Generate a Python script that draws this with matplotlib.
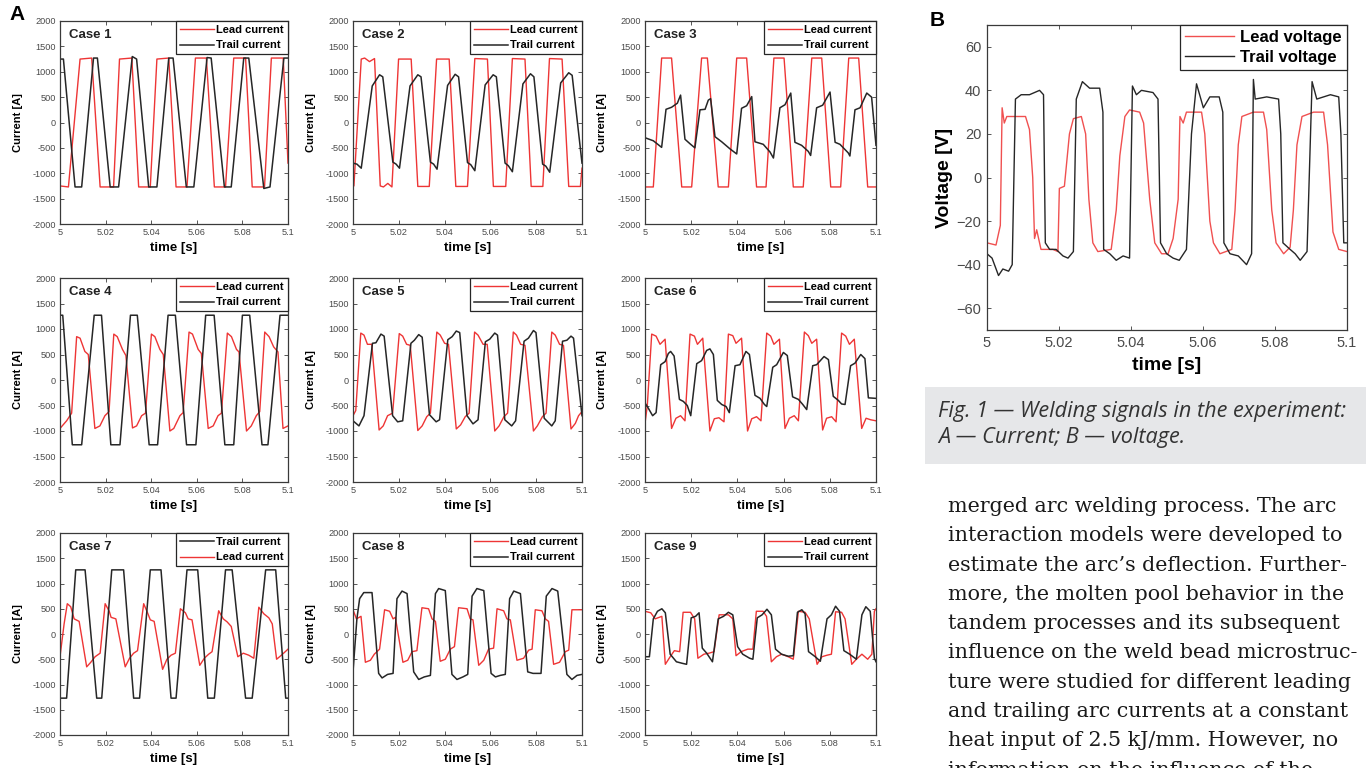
import matplotlib
matplotlib.use("Agg")
import matplotlib.pyplot as plt
from matplotlib.patches import Rectangle

plt.rcParams['font.family'] = ['Liberation Sans', 'DejaVu Sans']

# ---------------- data (time in ms after 5 s, current in A) ----------------
case_titles = ["Case 1", "Case 2", "Case 3", "Case 4", "Case 5", "Case 6", "Case 7", "Case 8", "Case 9"]

case1_lead_t = [0, 3.7, 8.8, 13.9, 17.6, 23.5, 26.1, 31.5, 34.5, 39.6, 42.5, 47.7, 50.9, 55.7, 59.4, 64.2, 67.7, 72.6, 76.2, 81.4, 84.3, 89.7, 92.7, 97.9, 100]
case1_lead_i = [-1250, -1270, 1250, 1270, -1270, -1270, 1250, 1270, -1270, -1270, 1250, 1270, -1270, -1270, 1270, 1270, -1270, -1270, 1270, 1270, -1270, -1270, 1270, 1270, -800]
case1_trail_t = [0, 1.5, 6.6, 9.5, 14.7, 16.4, 22.0, 25.7, 31.7, 33.6, 38.9, 42.5, 47.7, 49.6, 55.4, 58.7, 64.5, 66.3, 72.1, 75.1, 80.6, 82.8, 89.4, 92.1, 98.2, 100]
case1_trail_i = [1250, 1250, -1270, -1270, 1270, 1270, -1270, -1270, 1300, 1250, -1270, -1270, 1270, 1270, -1270, -1270, 1280, 1270, -1270, -1270, 1270, 1270, -1300, -1270, 1270, 1270]

case2_lead_t = [0, 0.4, 3.6, 5.1, 7.2, 9.4, 11.9, 13.3, 15.2, 17.0, 19.9, 25.4, 28.3, 33.3, 36.5, 42.0, 44.9, 50.0, 53.2, 58.7, 61.3, 66.7, 69.6, 75.1, 77.8, 82.9, 85.8, 91.3, 94.2, 99.3, 100]
case2_lead_i = [-1250, -1250, 1250, 1270, 1200, 1260, -1250, -1270, -1200, -1270, 1250, 1250, -1260, -1260, 1250, 1250, -1260, -1260, 1260, 1250, -1260, -1260, 1260, 1250, -1260, -1260, 1260, 1250, -1260, -1260, -900]
case2_trail_t = [0, 1.7, 3.6, 8.4, 11.6, 13.0, 17.4, 18.8, 20.3, 24.9, 28.3, 29.7, 33.8, 35.2, 36.7, 41.3, 44.6, 46.1, 50.0, 51.4, 53.2, 57.7, 61.2, 62.6, 66.4, 67.8, 69.6, 74.2, 77.5, 79.0, 82.8, 84.2, 85.9, 90.7, 94.2, 95.7, 100]
case2_trail_i = [-800, -820, -900, 720, 940, 900, -780, -820, -900, 720, 940, 900, -780, -820, -920, 730, 950, 900, -790, -830, -950, 740, 940, 900, -800, -850, -970, 760, 960, 900, -820, -860, -980, 780, 980, 930, -800]

case3_lead_t = [0, 3.6, 7.2, 11.5, 15.9, 20.2, 24.5, 27.0, 31.7, 36.1, 39.7, 44.0, 48.3, 52.4, 55.8, 60.2, 64.2, 68.5, 72.2, 76.5, 80.4, 84.7, 88.2, 92.5, 96.4, 100]
case3_lead_i = [-1270, -1270, 1270, 1270, -1270, -1270, 1270, 1270, -1270, -1270, 1270, 1270, -1270, -1270, 1270, 1270, -1270, -1270, 1270, 1270, -1270, -1270, 1270, 1270, -1270, -1270]
case3_trail_t = [0, 3.6, 7.2, 9.1, 11.5, 14.0, 15.4, 17.3, 19.5, 21.6, 23.8, 26.0, 27.4, 28.4, 30.3, 33.2, 36.8, 39.7, 41.8, 44.0, 46.2, 47.6, 51.2, 54.1, 55.6, 58.4, 60.6, 63.1, 64.9, 67.8, 70.7, 71.7, 74.3, 76.9, 80.1, 82.3, 84.4, 88.0, 88.7, 90.9, 93.1, 96.0, 98.1, 100]
case3_trail_i = [-300, -360, -490, 260, 300, 380, 540, -330, -420, -500, 250, 260, 440, 470, -280, -380, -520, -620, 280, 330, 510, -380, -430, -580, -700, 290, 350, 580, -390, -450, -570, -650, 290, 340, 600, -390, -430, -600, -660, 250, 290, 580, 500, -450]

case4_lead_t = [0, 2.9, 5.1, 7.3, 8.8, 10.9, 12.4, 15.3, 17.5, 19.7, 21.5, 23.6, 25.1, 27.4, 28.9, 31.8, 33.6, 35.8, 37.5, 40.1, 41.6, 43.8, 45.3, 48.2, 49.9, 52.6, 54.0, 56.6, 58.1, 60.6, 62.0, 65.0, 67.2, 69.3, 70.8, 73.4, 75.2, 77.4, 78.5, 81.8, 83.9, 86.1, 87.6, 89.8, 91.7, 93.7, 95.6, 97.8, 100]
case4_lead_i = [-950, -800, -650, 850, 820, 560, 500, -950, -900, -700, -620, 900, 850, 600, 480, -940, -900, -700, -650, 900, 850, 600, 500, -1000, -950, -700, -640, 940, 900, 600, 520, -950, -900, -700, -650, 920, 850, 600, 550, -1000, -900, -700, -620, 940, 850, 650, 550, -950, -900]
case4_trail_t = [0, 1.2, 5.4, 9.5, 15.0, 18.2, 22.3, 26.3, 30.9, 33.9, 39.1, 42.8, 47.4, 50.6, 55.5, 59.6, 63.9, 67.6, 72.3, 76.2, 80.0, 83.2, 88.6, 91.2, 96.5, 100]
case4_trail_i = [1270, 1270, -1270, -1270, 1270, 1270, -1270, -1270, 1270, 1270, -1270, -1270, 1270, 1270, -1270, -1270, 1270, 1270, -1270, -1270, 1270, 1270, -1270, -1270, 1270, 1270]

case5_lead_t = [0, 1.2, 3.4, 4.8, 6.3, 8.2, 11.4, 13.2, 15.1, 17.3, 20.2, 21.7, 23.4, 25.0, 28.3, 30.2, 32.2, 33.8, 36.6, 38.1, 40.0, 41.7, 45.1, 47.0, 49.0, 50.7, 53.1, 54.6, 56.8, 58.6, 61.9, 63.8, 65.9, 67.5, 70.0, 71.4, 73.2, 75.1, 78.8, 80.5, 82.7, 84.3, 86.8, 88.3, 90.2, 91.9, 95.2, 97.1, 98.5, 100]
case5_lead_i = [-700, -600, 920, 880, 700, 700, -980, -900, -700, -650, 910, 860, 700, 680, -990, -900, -720, -650, 940, 880, 720, 700, -960, -880, -720, -650, 940, 880, 700, 700, -1000, -900, -720, -650, 940, 880, 700, 680, -1000, -900, -720, -650, 940, 880, 700, 680, -960, -850, -700, -620]
case5_trail_t = [0, 2.6, 4.8, 8.5, 10.0, 12.2, 13.6, 17.3, 19.5, 21.7, 25.3, 26.8, 28.7, 30.2, 33.4, 36.3, 37.8, 41.4, 43.3, 45.1, 46.6, 49.8, 52.4, 54.6, 57.8, 59.7, 61.9, 63.1, 66.3, 69.3, 71.0, 74.7, 76.6, 78.8, 79.9, 83.5, 86.8, 88.3, 91.5, 93.4, 95.2, 96.3, 100]
case5_trail_i = [-800, -900, -700, 720, 730, 900, 860, -700, -820, -800, 720, 780, 890, 840, -680, -820, -780, 790, 850, 960, 930, -700, -860, -780, 750, 800, 920, 880, -780, -900, -800, 760, 820, 970, 930, -750, -900, -800, 760, 780, 860, 820, -700]

case6_lead_t = [0, 1.0, 2.9, 4.8, 6.5, 8.7, 11.5, 13.4, 15.4, 17.3, 19.5, 21.4, 22.7, 25.0, 28.1, 30.0, 32.0, 34.2, 36.1, 38.0, 39.4, 41.8, 44.4, 46.2, 48.3, 50.2, 52.7, 54.4, 55.8, 58.2, 60.6, 62.5, 64.6, 66.4, 69.0, 70.7, 72.2, 74.3, 76.9, 78.6, 80.8, 82.7, 85.1, 86.9, 88.5, 90.6, 93.8, 95.7, 97.7, 100]
case6_lead_i = [-850, -500, 900, 860, 700, 800, -950, -750, -700, -800, 900, 860, 700, 820, -1000, -760, -740, -820, 900, 870, 720, 820, -1000, -760, -720, -800, 920, 860, 700, 800, -950, -750, -700, -800, 940, 870, 720, 800, -980, -750, -720, -820, 920, 860, 700, 800, -950, -750, -780, -800]
case6_trail_t = [0, 1.4, 3.3, 4.8, 6.8, 8.7, 10.1, 11.1, 12.6, 14.9, 16.6, 18.3, 19.8, 22.4, 24.5, 26.7, 28.1, 29.6, 31.3, 33.2, 35.1, 36.5, 39.0, 41.1, 43.7, 45.2, 47.6, 49.8, 51.7, 52.7, 55.3, 57.0, 59.9, 61.6, 63.9, 66.4, 68.3, 70.0, 72.6, 74.3, 77.5, 79.4, 81.5, 83.7, 85.1, 86.6, 89.0, 90.9, 93.4, 95.2, 96.7, 100]
case6_trail_i = [-450, -550, -700, -640, 300, 360, 520, 560, 470, -380, -420, -500, -700, 320, 380, 580, 610, 500, -400, -480, -520, -640, 280, 300, 560, 500, -300, -360, -480, -520, 250, 300, 540, 480, -330, -380, -480, -580, 280, 300, 460, 400, -320, -400, -470, -480, 280, 330, 500, 420, -350, -360]

case7_lead_t = [0, 1.8, 3.2, 4.7, 6.2, 8.4, 11.7, 13.5, 15.4, 17.6, 19.8, 21.6, 22.4, 24.5, 28.6, 30.5, 32.3, 34.0, 36.7, 38.4, 39.6, 41.3, 45.0, 46.9, 48.7, 50.6, 52.8, 55.0, 56.2, 57.9, 61.3, 63.3, 65.2, 66.7, 69.6, 71.6, 73.3, 75.1, 78.0, 80.4, 82.8, 85.0, 87.2, 89.4, 91.6, 93.1, 95.0, 97.1, 100]
case7_lead_i = [-450, 200, 600, 540, 300, 250, -650, -560, -450, -380, 600, 450, 330, 300, -650, -480, -380, -330, 600, 420, 280, 250, -700, -500, -420, -380, 500, 420, 300, 280, -620, -480, -400, -350, 460, 300, 240, 150, -450, -380, -420, -480, 530, 400, 320, 200, -500, -420, -300]
case7_trail_t = [0, 2.9, 6.9, 11.0, 16.1, 18.3, 22.7, 27.9, 32.3, 34.9, 39.6, 44.3, 48.7, 50.9, 55.7, 60.4, 64.8, 67.7, 72.6, 75.5, 81.4, 84.3, 90.2, 94.6, 99.0, 100]
case7_trail_i = [-1270, -1270, 1270, 1270, -1270, -1270, 1270, 1270, -1270, -1270, 1270, 1270, -1270, -1270, 1270, 1270, -1270, -1270, 1270, 1270, -1270, -1270, 1270, 1270, -1270, -1270]

case8_lead_t = [0, 1.5, 3.5, 5.4, 7.6, 9.3, 11.6, 13.8, 16.0, 17.5, 18.5, 21.8, 23.9, 25.8, 27.9, 30.1, 33.0, 34.5, 36.0, 38.1, 40.3, 42.5, 44.3, 46.1, 49.8, 51.2, 52.4, 54.9, 57.1, 59.2, 61.4, 62.9, 65.8, 67.2, 68.7, 71.6, 74.5, 76.7, 78.2, 79.6, 82.5, 84.0, 85.4, 87.6, 90.2, 92.7, 94.2, 95.6, 100]
case8_lead_i = [480, 300, 350, -560, -520, -400, -300, 480, 450, 300, 330, -560, -520, -350, -330, 520, 500, 300, 250, -540, -500, -300, -250, 520, 500, 300, 280, -620, -520, -300, -280, 500, 460, 300, 280, -520, -480, -320, -300, 480, 460, 300, 250, -600, -560, -350, -320, 480, 480]
case8_trail_t = [0, 1.7, 2.9, 4.7, 8.3, 11.2, 12.7, 15.1, 17.5, 19.2, 21.4, 23.6, 26.5, 28.7, 31.1, 33.8, 36.0, 37.4, 40.3, 43.2, 45.4, 48.0, 50.1, 52.0, 54.1, 57.1, 60.3, 62.2, 64.3, 66.5, 68.4, 70.2, 73.1, 76.3, 78.6, 82.1, 84.4, 86.9, 89.4, 93.4, 95.6, 97.8, 100]
case8_trail_i = [-750, 300, 700, 820, 820, -780, -870, -800, -780, 700, 850, 800, -750, -900, -850, -820, 800, 900, 860, -800, -900, -850, -800, 750, 900, 860, -780, -850, -820, -800, 700, 850, 800, -750, -780, -780, 750, 900, 850, -800, -900, -820, -800]

case9_lead_t = [0, 2.5, 4.4, 7.3, 8.8, 10.9, 12.7, 15.0, 16.5, 19.7, 21.5, 22.9, 25.5, 27.7, 29.9, 32.1, 36.1, 38.0, 39.4, 41.6, 44.5, 46.7, 48.2, 51.1, 52.6, 54.7, 56.9, 59.1, 62.0, 64.2, 66.4, 69.3, 71.1, 74.5, 76.6, 78.8, 80.7, 82.5, 85.1, 86.6, 89.5, 91.5, 93.9, 96.4, 98.2, 99.3, 100]
case9_lead_i = [450, 420, 300, 350, -600, -450, -330, -350, 430, 430, 300, -480, -400, -380, -350, 380, 380, 300, -430, -350, -300, -300, 450, 450, 350, -550, -450, -400, -450, -500, 450, 430, 300, -600, -450, -420, -400, 440, 430, 300, -600, -500, -400, -500, -400, 450, 500]
case9_trail_t = [0, 1.9, 3.6, 5.4, 7.3, 8.8, 10.9, 13.6, 16.1, 18.0, 20.0, 21.9, 23.4, 24.8, 26.7, 29.2, 31.7, 34.0, 36.1, 38.0, 40.1, 42.3, 45.3, 46.7, 48.6, 50.7, 52.8, 54.7, 56.5, 59.1, 62.0, 64.2, 66.0, 67.9, 69.3, 70.8, 73.7, 75.9, 78.8, 80.7, 82.5, 84.2, 86.1, 88.6, 91.5, 93.9, 95.6, 97.5, 99.3, 100]
case9_trail_i = [-450, -450, 300, 450, 500, 420, -400, -550, -580, -600, 320, 350, 420, -280, -380, -550, 300, 350, 430, 380, -250, -400, -480, -500, 320, 380, 490, 380, -300, -400, -440, -430, 430, 480, 400, -350, -450, -540, 300, 380, 550, 450, -330, -400, -500, 380, 540, 450, -480, -550]

volt_lead_t = [0, 2.5, 3.7, 4.2, 4.8, 5.5, 6.7, 10.7, 11.8, 12.7, 13.2, 13.8, 15.0, 18.3, 19.7, 20.1, 21.5, 22.9, 24.0, 26.2, 27.4, 28.3, 29.4, 30.8, 34.5, 35.9, 36.9, 38.3, 39.6, 42.4, 43.5, 45.2, 46.6, 48.5, 50.3, 51.7, 53.1, 53.6, 54.5, 55.4, 59.6, 60.5, 61.9, 62.9, 64.7, 68.0, 68.9, 69.8, 70.8, 74.0, 76.8, 77.7, 79.1, 80.3, 82.4, 84.2, 85.1, 86.1, 87.5, 90.7, 93.5, 94.6, 96.1, 97.7, 100]
volt_lead_v = [-30, -31, -22, 32, 25, 28, 28, 28, 22, 0, -28, -24, -33, -33, -34, -5, -4, 20, 27, 28, 20, -10, -30, -34, -33, -15, 10, 28, 31, 30, 25, -10, -30, -35, -35, -28, -10, 28, 25, 30, 30, 20, -20, -30, -35, -33, -15, 15, 28, 30, 30, 22, -15, -30, -35, -32, -15, 15, 28, 30, 30, 15, -25, -33, -34]
volt_trail_t = [0, 1.4, 3.2, 4.4, 6.0, 7.0, 7.9, 9.5, 11.8, 13.2, 14.6, 15.7, 16.2, 17.4, 19.2, 21.1, 22.5, 24.0, 24.8, 26.5, 28.5, 31.3, 32.2, 32.4, 34.1, 35.9, 37.8, 39.6, 40.4, 41.5, 42.9, 46.1, 47.5, 48.2, 49.9, 51.7, 53.4, 55.4, 56.8, 58.2, 60.1, 61.9, 64.5, 65.5, 65.8, 67.5, 69.8, 72.1, 73.5, 74.0, 74.5, 77.7, 81.0, 81.6, 82.2, 84.2, 85.6, 87.0, 88.9, 90.3, 91.6, 95.4, 97.7, 98.3, 99.1, 100]
volt_trail_v = [-35, -37, -45, -42, -43, -40, 36, 38, 38, 39, 40, 38, -30, -33, -33, -36, -37, -34, 36, 44, 41, 41, 30, -33, -35, -38, -36, -37, 42, 38, 40, 39, 36, -30, -35, -37, -38, -33, 20, 43, 32, 37, 37, 30, -30, -35, -36, -40, -35, 45, 36, 37, 36, 20, -30, -33, -35, -38, -34, 44, 36, 38, 37, 20, -30, -30]

current_yticks = [-2000, -1500, -1000, -500, 0, 500, 1000, 1500, 2000]
time_ticks = [5.0, 5.02, 5.04, 5.06, 5.08, 5.1]
time_ticklabels = ["5", "5.02", "5.04", "5.06", "5.08", "5.1"]
volt_yticks = [-60, -40, -20, 0, 20, 40, 60]

caption_lines = ["Fig. 1 \u2014 Welding signals in the experiment:",
                 "A \u2014 Current; B \u2014 voltage."]
body_lines = ["merged arc welding process. The arc",
              "interaction models were developed to",
              "estimate the arc\u2019s deflection. Further-",
              "more, the molten pool behavior in the",
              "tandem processes and its subsequent",
              "influence on the weld bead microstruc-",
              "ture were studied for different leading",
              "and trailing arc currents at a constant",
              "heat input of 2.5 kJ/mm. However, no",
              "information on the influence of the"]

cases = [
    (case1_lead_t, case1_lead_i, case1_trail_t, case1_trail_i),
    (case2_lead_t, case2_lead_i, case2_trail_t, case2_trail_i),
    (case3_lead_t, case3_lead_i, case3_trail_t, case3_trail_i),
    (case4_lead_t, case4_lead_i, case4_trail_t, case4_trail_i),
    (case5_lead_t, case5_lead_i, case5_trail_t, case5_trail_i),
    (case6_lead_t, case6_lead_i, case6_trail_t, case6_trail_i),
    (case7_lead_t, case7_lead_i, case7_trail_t, case7_trail_i),
    (case8_lead_t, case8_lead_i, case8_trail_t, case8_trail_i),
    (case9_lead_t, case9_lead_i, case9_trail_t, case9_trail_i),
]

# ---------------- styling / layout ----------------
W, H = 1366, 768
RED = '#ee3535'
BLACK = '#262626'
FRAME = '#3a3a3a'
TICKC = '#4a4a4a'

fig = plt.figure(figsize=(W / 100, H / 100), dpi=100)
fig.patch.set_facecolor('white')


def px_axes(l, t, r, b):
    return fig.add_axes([l / W, 1 - b / H, (r - l) / W, (b - t) / H])


def sec(ts):
    return [5.0 + x / 1000.0 for x in ts]


def style(ax, lab_size, pad):
    for s in ax.spines.values():
        s.set_color(FRAME)
        s.set_linewidth(0.9)
    ax.tick_params(direction='in', top=True, right=True, length=3, width=0.6,
                   colors=FRAME, labelcolor=TICKC, labelsize=lab_size, pad=pad)


cols = [(60, 288), (353, 582), (645, 876)]
rows = [(21, 224), (278, 482), (533, 735)]

for k, (lt, li, tt, ti) in enumerate(cases):
    r, c = divmod(k, 3)
    l, rr = cols[c]
    t, b = rows[r]
    ax = px_axes(l, t, rr, b)
    hl, = ax.plot(sec(lt), li, color=RED, lw=1.0)
    ht, = ax.plot(sec(tt), ti, color=BLACK, lw=1.1)
    ax.set_xlim(5.0, 5.1)
    ax.set_ylim(-2000, 2000)
    ax.set_xticks(time_ticks)
    ax.set_xticklabels(time_ticklabels)
    ax.set_yticks(current_yticks)
    ax.set_yticklabels([str(v) for v in current_yticks])
    style(ax, 6.6, 3.0)
    ax.set_ylabel("Current [A]", fontsize=8, fontweight='bold', va='center')
    ax.yaxis.set_label_coords(-0.185, 0.5)
    ax.set_xlabel("time [s]", fontsize=9.5, fontweight='bold', va='center')
    ax.xaxis.set_label_coords(0.5, -0.118)
    ax.text(0.04, 0.93, case_titles[k], transform=ax.transAxes, fontsize=9.5,
            fontweight='bold', va='center', ha='left', color='#222222')
    if k == 6:
        handles, labels = [ht, hl], ["Trail current", "Lead current"]
    else:
        handles, labels = [hl, ht], ["Lead current", "Trail current"]
    leg = ax.legend(handles, labels, loc='upper right', bbox_to_anchor=(1, 1),
                    borderaxespad=0, prop={'size': 8, 'weight': 'bold'},
                    handlelength=3.0, handletextpad=0.25, labelspacing=0.5,
                    borderpad=0.35, fancybox=False, framealpha=1, edgecolor=BLACK)
    leg.get_frame().set_linewidth(0.9)

# Panel B
axb = px_axes(987, 25, 1347, 330)
hbl, = axb.plot(sec(volt_lead_t), volt_lead_v, color='#f05050', lw=1.0)
hbt, = axb.plot(sec(volt_trail_t), volt_trail_v, color=BLACK, lw=1.0)
axb.set_xlim(5.0, 5.1)
axb.set_ylim(-70, 70)
axb.set_xticks(time_ticks)
axb.set_xticklabels(time_ticklabels)
axb.set_yticks(volt_yticks)
style(axb, 10.5, 4.0)
axb.set_ylabel("Voltage [V]", fontsize=14, fontweight='bold', va='center')
axb.yaxis.set_label_coords(-0.117, 0.5)
axb.set_xlabel("time [s]", fontsize=14, fontweight='bold', va='center')
axb.xaxis.set_label_coords(0.5, -0.115)
legb = axb.legend([hbl, hbt], ["Lead voltage", "Trail voltage"], loc='upper right',
                  bbox_to_anchor=(1, 1), borderaxespad=0,
                  prop={'size': 12, 'weight': 'bold'}, handlelength=2.9,
                  handletextpad=0.4, labelspacing=0.3, borderpad=0.3,
                  fancybox=False, framealpha=1, edgecolor=BLACK)
legb.get_frame().set_linewidth(0.9)

# Panel letters
fig.text(17 / W, 1 - 15 / H, "A", fontsize=15, fontweight='bold', ha='center', va='center')
fig.text(937 / W, 1 - 21 / H, "B", fontsize=15, fontweight='bold', ha='center', va='center')

# Caption box
fig.patches.append(Rectangle((925 / W, 1 - 464 / H), (W - 925) / W, 77 / H,
                             transform=fig.transFigure, facecolor='#e6e7e9',
                             edgecolor='none', zorder=0))
fig.text(938 / W, 1 - 412 / H, caption_lines[0], fontsize=15.6, style='italic',
         family=['Open Sans', 'DejaVu Sans'], color='#333333', va='center', ha='left')
fig.text(938 / W, 1 - 438 / H, caption_lines[1], fontsize=15.6, style='italic',
         family=['Open Sans', 'DejaVu Sans'], color='#333333', va='center', ha='left')

# Body text
for i, line in enumerate(body_lines):
    yb = 512 + i * 29.3
    fig.text(948 / W, 1 - yb / H, line, fontsize=14.9, family=['DejaVu Serif'],
             color='#1a1a1a', va='baseline', ha='left')

fig.savefig("out.png", dpi=100)
